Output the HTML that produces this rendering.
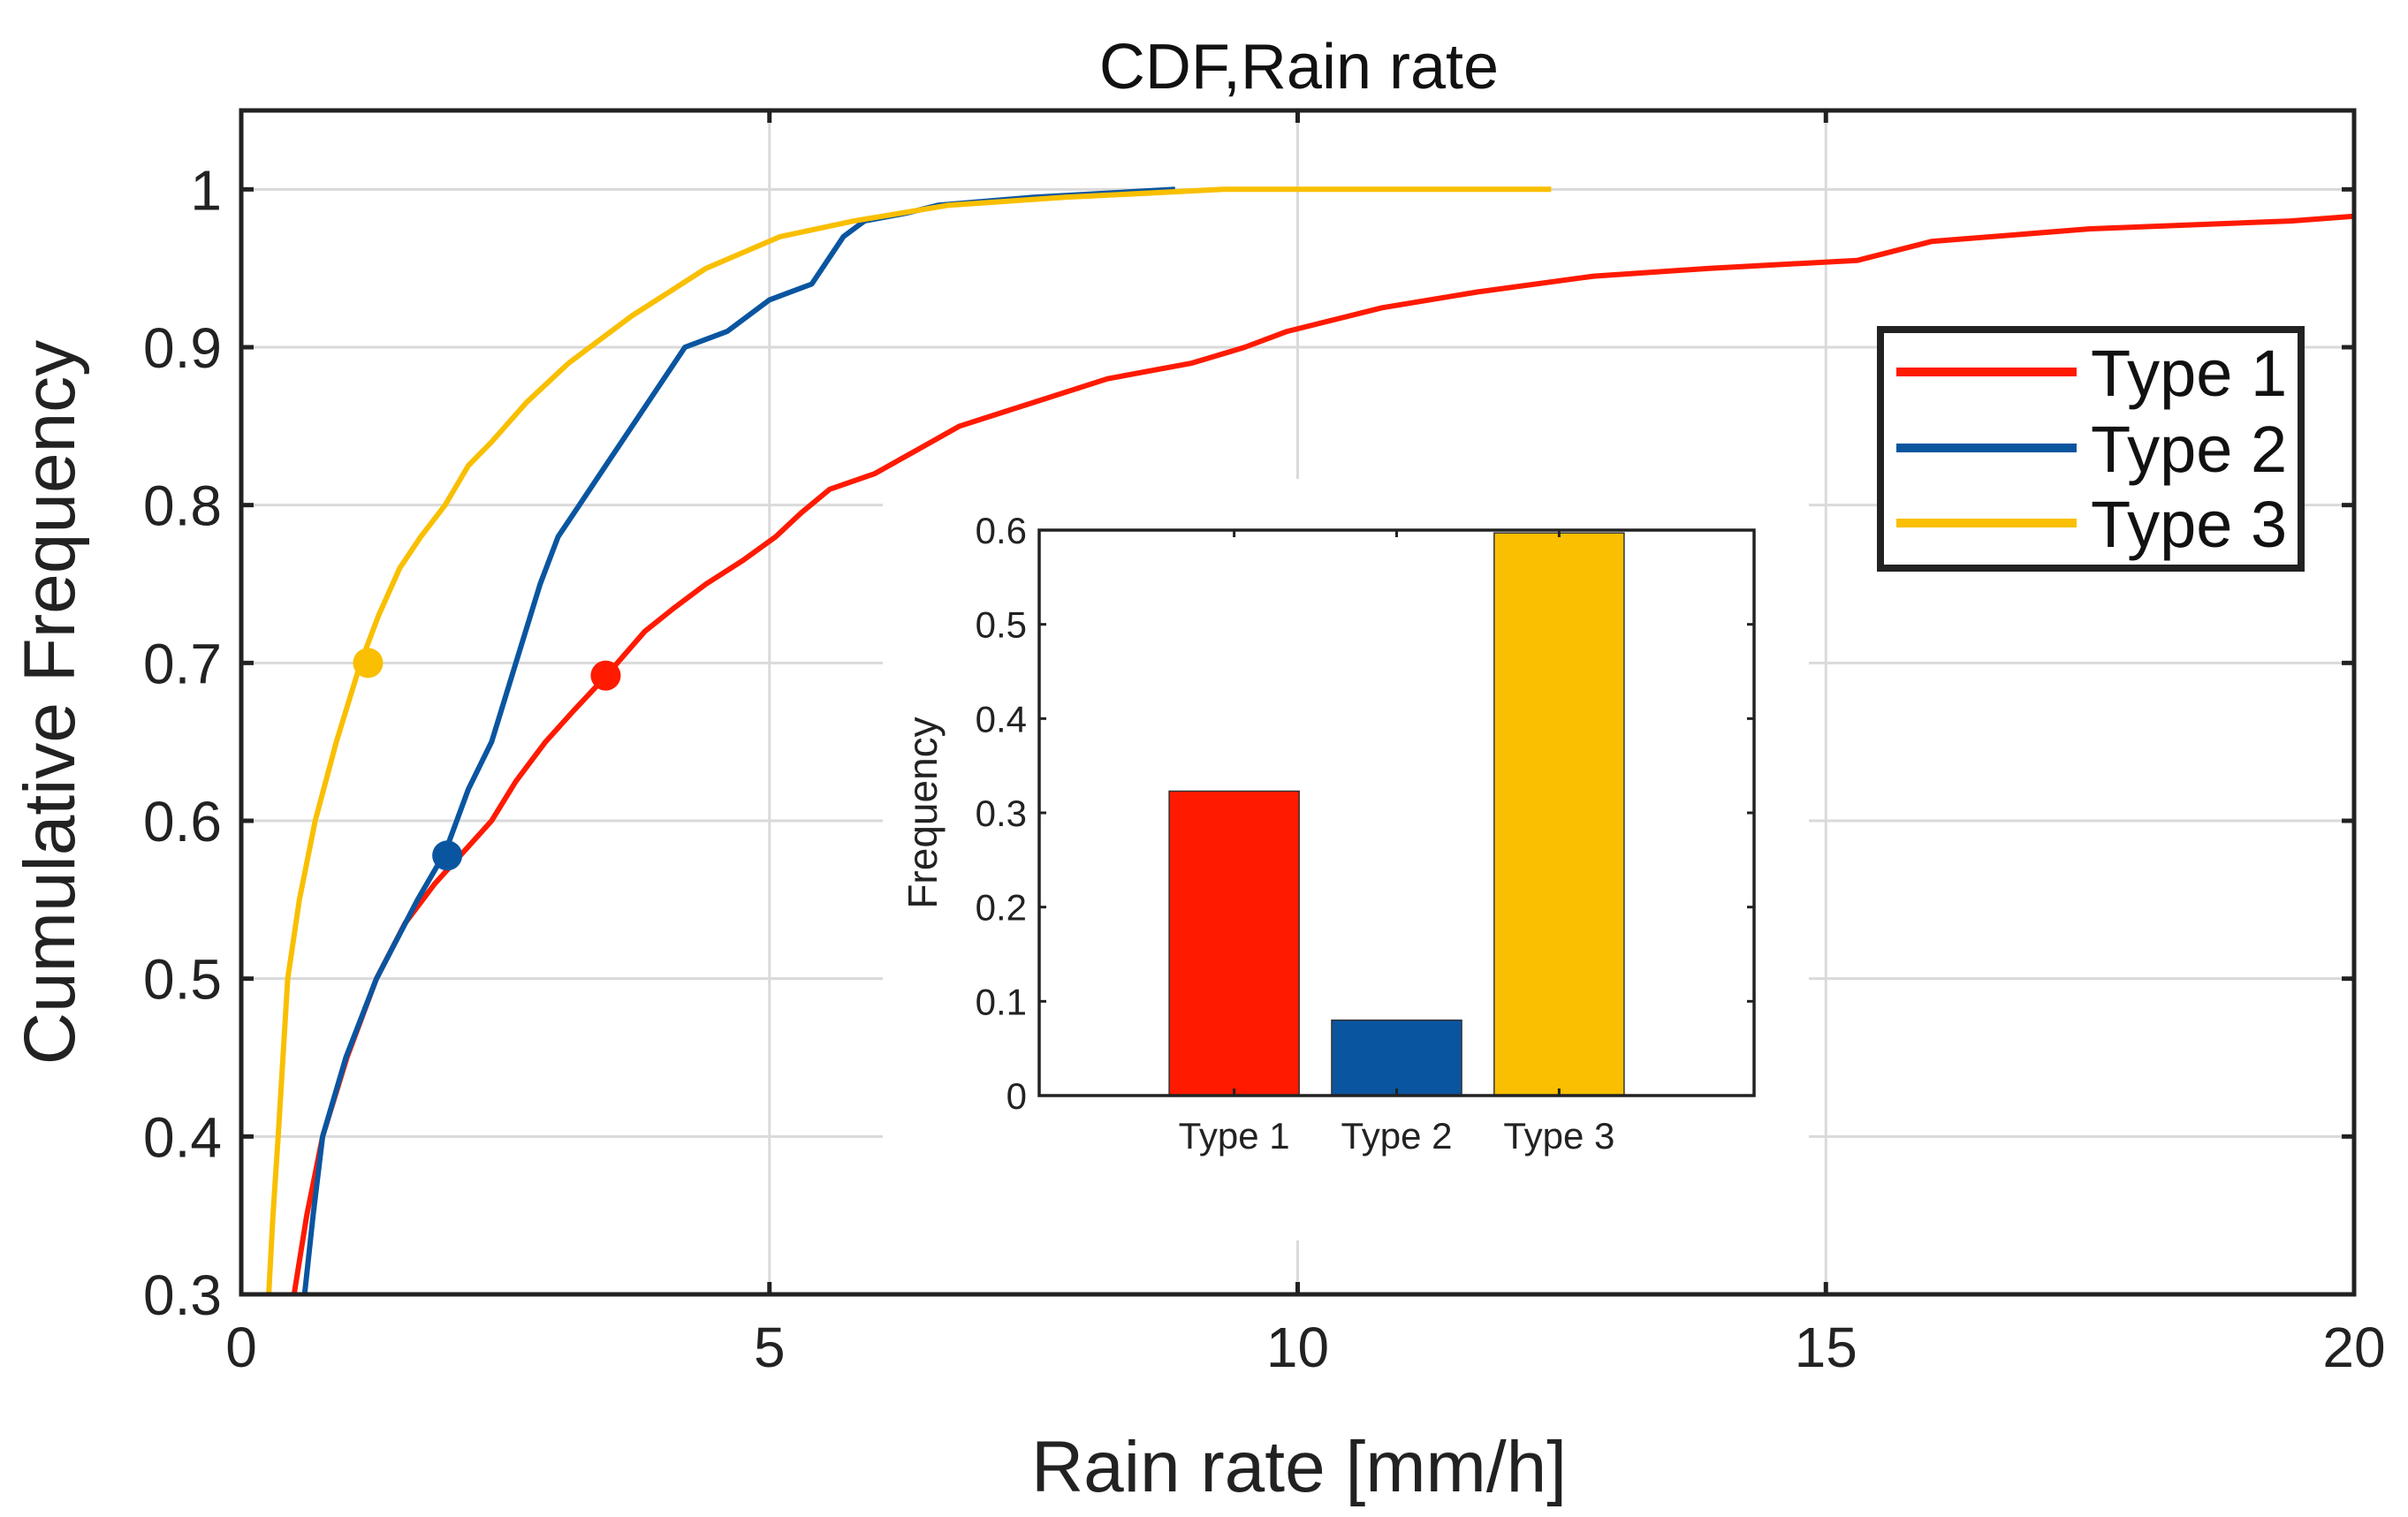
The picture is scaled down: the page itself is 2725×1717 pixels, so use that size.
<!DOCTYPE html>
<html><head><meta charset="utf-8"><style>
html,body{margin:0;padding:0;background:#fff;}
svg{display:block;font-family:"Liberation Sans",Arial,sans-serif;}
</style></head><body>
<svg id="chart" width="2725" height="1717" viewBox="0 0 2725 1717" xmlns="http://www.w3.org/2000/svg"></svg>
<script>
// ---- data ----
const xTicks = [0, 5, 10, 15, 20];
const yTicks = [0.3, 0.4, 0.5, 0.6, 0.7, 0.8, 0.9, 1];
const yTickLabels = ["0.3","0.4","0.5","0.6","0.7","0.8","0.9","1"];
const t1x = [0.5,0.62,0.77,1.0,1.28,1.55,1.83,2.1,2.37,2.6,2.88,3.15,3.43,3.82,4.1,4.4,4.75,5.06,5.3,5.57,6.0,6.4,6.8,7.5,8.2,9.0,9.5,9.9,10.8,11.7,12.8,13.9,15.3,16.0,17.5,19.4,20];
const t1y = [0.3,0.35,0.4,0.45,0.5,0.535,0.56,0.58,0.6,0.625,0.65,0.67,0.69,0.72,0.735,0.75,0.765,0.78,0.795,0.81,0.82,0.835,0.85,0.865,0.88,0.89,0.9,0.91,0.925,0.935,0.945,0.95,0.955,0.967,0.975,0.98,0.983];
const t2x = [0.6,0.68,0.77,0.99,1.28,1.67,1.93,2.15,2.37,2.6,2.83,3.0,3.2,3.5,3.8,4.2,4.6,5.0,5.4,5.7,5.9,6.3,6.6,7.5,8.84];
const t2y = [0.3,0.35,0.4,0.45,0.5,0.55,0.58,0.62,0.65,0.7,0.75,0.78,0.8,0.83,0.86,0.9,0.91,0.93,0.94,0.97,0.98,0.985,0.99,0.995,1.0];
const t3x = [0.26,0.3,0.35,0.44,0.55,0.7,0.9,1.13,1.3,1.5,1.7,1.93,2.15,2.37,2.7,3.1,3.7,4.4,5.1,5.8,6.7,7.8,9.3,12.4];
const t3y = [0.3,0.35,0.4,0.5,0.55,0.6,0.65,0.7,0.73,0.76,0.78,0.8,0.825,0.84,0.865,0.89,0.92,0.95,0.97,0.98,0.99,0.995,1.0,1.0];
const markX = [3.45, 1.95, 1.2];
const markY = [0.692, 0.578, 0.70];
const seriesNames = ["Type 1","Type 2","Type 3"];
const barValues = [0.323, 0.08, 0.597];
const insetYTicks = [0,0.1,0.2,0.3,0.4,0.5,0.6];
const insetYLabels = ["0","0.1","0.2","0.3","0.4","0.5","0.6"];

const colors = ["#ff1a00","#0a55a0","#f9bf00"];
const NS = "http://www.w3.org/2000/svg";
const svg = document.getElementById('chart');
function mk(tag, attrs, parent){const e=document.createElementNS(NS,tag);for(const k in attrs)e.setAttribute(k,attrs[k]);(parent||svg).appendChild(e);return e;}

const L=273,R=2664,T=125,B=1465;
const X = v => L + (v-0)/(20-0)*(R-L);
const Y = v => B - (v-0.3)/(1.05-0.3)*(B-T);

xTicks.forEach((t,i)=>{ if(i>0&&i<xTicks.length-1){
  const g=mk('line',{x1:X(t),x2:X(t),y1:T,y2:B,stroke:'#dadada','stroke-width':3});
  
  
}});
yTicks.forEach(t=>{
  const g=mk('line',{x1:L,x2:R,y1:Y(t),y2:Y(t),stroke:'#dadada','stroke-width':3});
  
  
});

[[t1x,t1y],[t2x,t2y],[t3x,t3y]].forEach((s,i)=>{
  const pts=s[0].map((x,j)=>X(x).toFixed(1)+','+Y(s[1][j]).toFixed(1)).join(' ');
  const p=mk('polyline',{points:pts,fill:'none',stroke:colors[i],'stroke-width':6,'stroke-linejoin':'round'});
  
  
});
markX.forEach((x,i)=>{
  const c=mk('circle',{cx:X(x),cy:Y(markY[i]),r:17,fill:colors[i]});
  
  
});

const box=mk('rect',{x:L,y:T,width:R-L,height:B-T,fill:'none',stroke:'#222','stroke-width':5});


xTicks.forEach(t=>{
  mk('line',{x1:X(t),x2:X(t),y1:B,y2:B-14,stroke:'#222','stroke-width':5});
  mk('line',{x1:X(t),x2:X(t),y1:T,y2:T+14,stroke:'#222','stroke-width':5});
  const tx=mk('text',{x:X(t),y:B+82,'font-size':64,'text-anchor':'middle',fill:'#222'});
  tx.textContent=t;
  
  
});
yTicks.forEach((t,i)=>{
  mk('line',{x1:L,x2:L+14,y1:Y(t),y2:Y(t),stroke:'#222','stroke-width':5});
  mk('line',{x1:R,x2:R-14,y1:Y(t),y2:Y(t),stroke:'#222','stroke-width':5});
  const tx=mk('text',{x:L-22,y:Y(t)+23,'font-size':64,'text-anchor':'end',fill:'#222'});
  tx.textContent=yTickLabels[i];
  
  
});

let tt=mk('text',{x:1470,y:100,'font-size':72,'text-anchor':'middle',fill:'#111'});
tt.textContent='CDF,Rain rate';


tt=mk('text',{x:1470,y:1688,'font-size':82,'text-anchor':'middle',fill:'#222'});
tt.textContent='Rain rate [mm/h]';


tt=mk('text',{x:0,y:0,'font-size':82,'text-anchor':'middle',fill:'#222',transform:'translate(84,795) rotate(-90)'});
tt.textContent='Cumulative Frequency';



const lg=mk('g',{});


mk('rect',{x:2128,y:373,width:476,height:270,fill:'#fff',stroke:'#222','stroke-width':8},lg);
const ly=[421,507,592];
seriesNames.forEach((n,i)=>{
  const ln=mk('line',{x1:2146,x2:2350,y1:ly[i],y2:ly[i],stroke:colors[i],'stroke-width':10},lg);
  
  
  const t=mk('text',{x:2366,y:ly[i]+27,'font-size':74,fill:'#111'},lg);
  t.textContent=n;
  
  
});

const ig=mk('g',{});


mk('rect',{x:999,y:542,width:1048,height:862,fill:'#fff'},ig);
const IL=1176,IR=1985,IT=600,IB=1240;
const IX = c => IL + (c-(-0.2))/(4.2-(-0.2))*(IR-IL);
const IY = v => IB - v/0.6*(IB-IT);
barValues.forEach((v,i)=>{
  const w=IX(0.8)-IX(0);
  const r=mk('rect',{x:IX(i+1)-w/2,y:IY(v),width:w,height:IB-IY(v),fill:colors[i],stroke:'#333','stroke-width':1.5},ig);
  
  
  const t=mk('text',{x:IX(i+1),y:IB+60,'font-size':42,'text-anchor':'middle',fill:'#222'},ig);
  t.textContent=seriesNames[i];
  
  
  mk('line',{x1:IX(i+1),x2:IX(i+1),y1:IB,y2:IB-8,stroke:'#222','stroke-width':3},ig);
  mk('line',{x1:IX(i+1),x2:IX(i+1),y1:IT,y2:IT+8,stroke:'#222','stroke-width':3},ig);
});
mk('rect',{x:IL,y:IT,width:IR-IL,height:IB-IT,fill:'none',stroke:'#222','stroke-width':3.5},ig);
insetYTicks.forEach((t,i)=>{
  mk('line',{x1:IL,x2:IL+8,y1:IY(t),y2:IY(t),stroke:'#222','stroke-width':3},ig);
  mk('line',{x1:IR,x2:IR-8,y1:IY(t),y2:IY(t),stroke:'#222','stroke-width':3},ig);
  const tx=mk('text',{x:IL-14,y:IY(t)+15,'font-size':42,'text-anchor':'end',fill:'#222'},ig);
  tx.textContent=insetYLabels[i];
  
  
});
tt=mk('text',{x:0,y:0,'font-size':46,'text-anchor':'middle',fill:'#222',transform:'translate(1060,920) rotate(-90)'},ig);
tt.textContent='Frequency';


</script>
</body></html>
